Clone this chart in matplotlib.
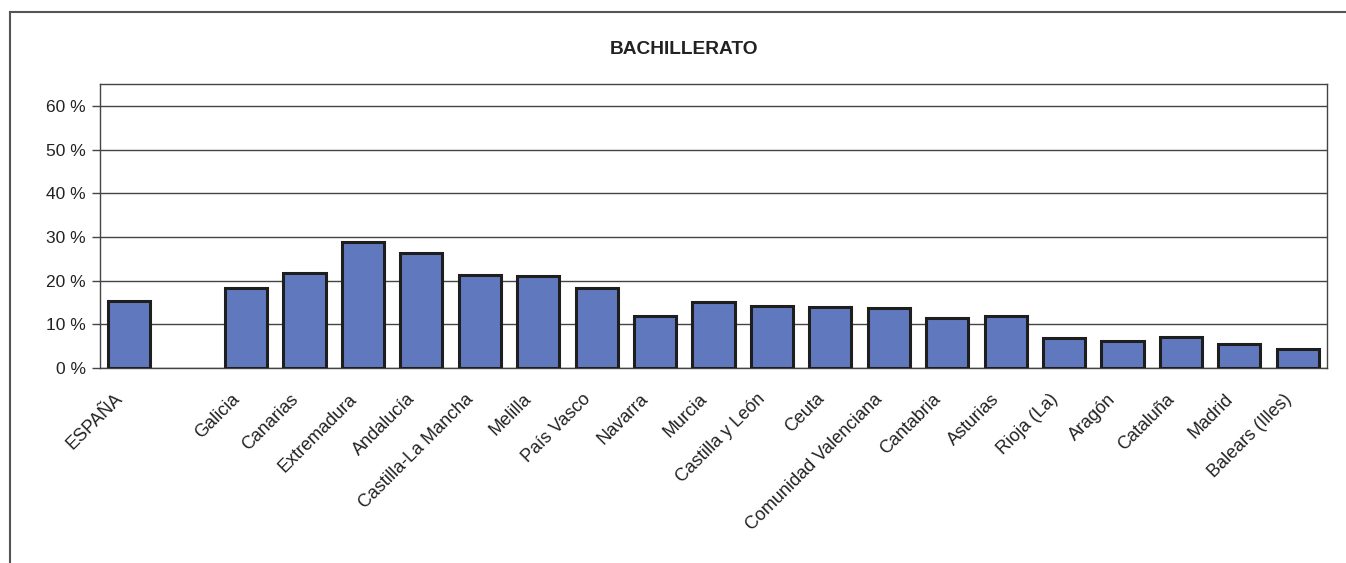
import matplotlib
matplotlib.use("Agg")
import matplotlib.pyplot as plt
from matplotlib.lines import Line2D
from matplotlib.ticker import FuncFormatter
from matplotlib.transforms import ScaledTranslation

plt.rcParams['font.family'] = ['Liberation Sans', 'DejaVu Sans']

title = "BACHILLERATO"
categories = ["ESPAÑA", "", "Galicia", "Canarias", "Extremadura", "Andalucía",
              "Castilla-La Mancha", "Melilla", "País Vasco", "Navarra", "Murcia",
              "Castilla y León", "Ceuta", "Comunidad Valenciana", "Cantabria",
              "Asturias", "Rioja (La)", "Aragón", "Cataluña", "Madrid", "Balears (Illes)"]
values = [15.3, None, 18.4, 21.7, 28.8, 26.4, 21.2, 21.0, 18.3, 12.0, 15.2,
          14.3, 13.9, 13.7, 11.5, 12.0, 6.8, 6.1, 7.2, 5.5, 4.4]
yticks = [0, 10, 20, 30, 40, 50, 60]

W, H = 1346, 563
fig = plt.figure(figsize=(W / 100, H / 100), dpi=100)
ax = fig.add_axes([100 / W, 1 - 368 / H, 1227 / W, (368 - 84) / H])

xs = [i for i, v in enumerate(values) if v is not None]
vs = [v for v in values if v is not None]
ax.bar(xs, vs, width=0.72, color='#6079BE', edgecolor='#1e1e1e', linewidth=2.2, zorder=3)

ax.set_xlim(-0.5, len(categories) - 0.5)
ax.set_ylim(0, 65)
ax.set_yticks(yticks)
ax.yaxis.set_major_formatter(FuncFormatter(lambda v, p: f"{int(v)} %"))
ax.grid(axis='y', color='#444444', linewidth=1, zorder=0)
ax.set_axisbelow(True)

ax.set_xticks(range(len(categories)))
ax.set_xticklabels(categories, rotation=45, ha='right', va='top',
                   rotation_mode='anchor', fontsize=13, color='#222222')
ax.tick_params(axis='x', length=0, pad=14)
offset = ScaledTranslation(-0.15, -0.03, fig.dpi_scale_trans)
for lab in ax.get_xticklabels():
    lab.set_transform(lab.get_transform() + offset)
ax.tick_params(axis='y', length=6, width=1, color='#444444', labelsize=12.5,
               labelcolor='#222222', pad=4)
for s in ax.spines.values():
    s.set_color('#444444')
    s.set_linewidth(1)

fig.text(684 / W, 1 - 49 / H, title, ha='center', va='center',
         fontsize=13.8, fontweight='bold', color='#222222')

# outer chart border (partially visible)
fig.add_artist(Line2D([10 / W, 10 / W], [0, 1 - 12 / H], transform=fig.transFigure,
                      color='#555555', linewidth=1.5))
fig.add_artist(Line2D([10 / W, 1], [1 - 12 / H, 1 - 12 / H], transform=fig.transFigure,
                      color='#555555', linewidth=1.5))

fig.savefig("out.png", dpi=100)
